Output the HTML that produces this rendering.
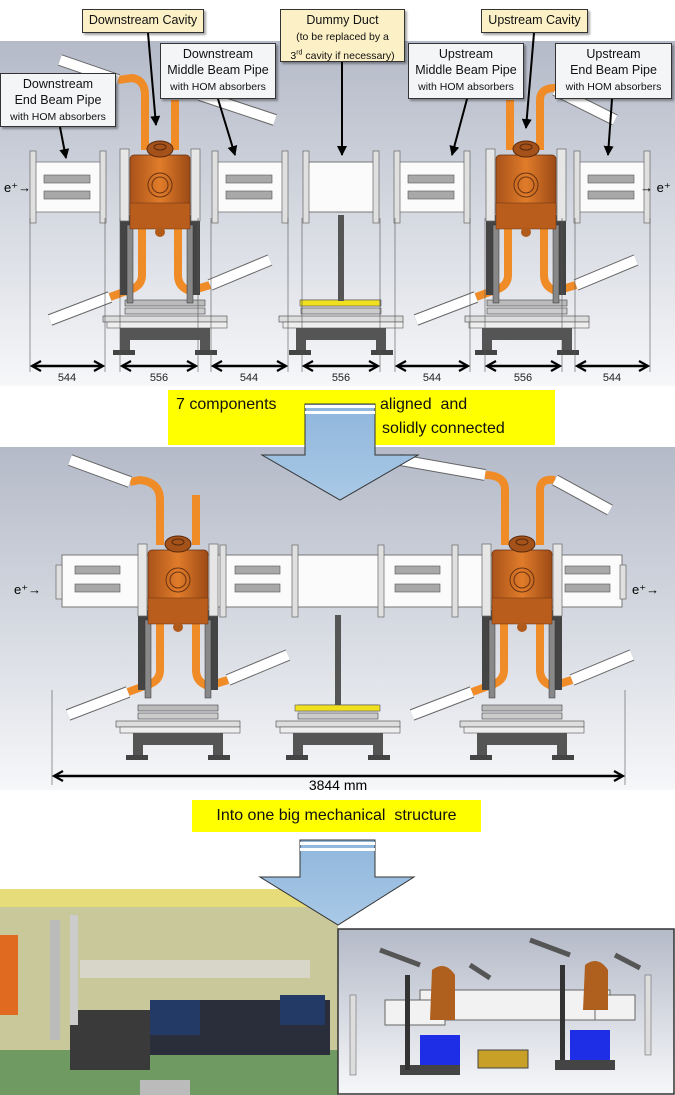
<!DOCTYPE html>
<html><head><meta charset="utf-8">
<style>
body{margin:0;width:675px;height:1095px;overflow:hidden;background:#fff;font-family:"Liberation Sans",sans-serif;}
svg{position:absolute;left:0;top:0}
.lb{position:absolute;border:1px solid #333;box-shadow:2px 2px 2px rgba(0,0,0,.35);text-align:center;font-size:12.5px;line-height:16px;color:#111;box-sizing:border-box;padding-top:2px}
.y{background:#fcf0c6}
.w{background:#f4f5f7}
.s{font-size:10.5px}
.yb{position:absolute;background:#ffff00;font-size:16px;color:#111}
</style></head><body>
<svg width="675" height="1095" viewBox="0 0 675 1095">
<defs>
<linearGradient id="bg" x1="0" y1="0" x2="0" y2="1"><stop offset="0" stop-color="#b4bac8"/><stop offset="1" stop-color="#f6f7f9"/></linearGradient>
<linearGradient id="cu" x1="0" y1="0" x2="1" y2="0"><stop offset="0" stop-color="#a9521a"/><stop offset=".5" stop-color="#e07c2a"/><stop offset="1" stop-color="#9c4a16"/></linearGradient>
<g id="pipe">
 <rect x="-33" y="-25" width="66" height="50" fill="#fbfbfb" stroke="#777" stroke-width=".8"/>
 <rect x="-24" y="-12" width="46" height="8" fill="#a8a8a8" stroke="#555" stroke-width=".6"/>
 <rect x="-24" y="4" width="46" height="8" fill="#a8a8a8" stroke="#555" stroke-width=".6"/>
 <rect x="-38" y="-36" width="6" height="72" fill="#e0e0e0" stroke="#666" stroke-width=".7"/>
 <rect x="32" y="-36" width="6" height="72" fill="#e0e0e0" stroke="#666" stroke-width=".7"/>
</g>
<g id="cav">
 <path d="M-18 30 V90 Q-18 100 -28 104 L-50 112" fill="none" stroke="#f08c28" stroke-width="8"/>
 <path d="M18 30 V90 Q18 102 30 106 L50 100" fill="none" stroke="#f08c28" stroke-width="8"/>
 <rect x="-40" y="30" width="12" height="80" fill="#444"/><rect x="28" y="30" width="12" height="80" fill="#444"/>
 <rect x="-33" y="40" width="6" height="78" fill="#888" stroke="#333" stroke-width=".5"/><rect x="27" y="40" width="6" height="78" fill="#888" stroke="#333" stroke-width=".5"/>
 <line x1="-50" y1="112" x2="-110" y2="135" stroke="#666" stroke-width="12"/><line x1="-50" y1="112" x2="-110" y2="135" stroke="#fff" stroke-width="10"/>
 <line x1="50" y1="100" x2="110" y2="75" stroke="#666" stroke-width="12"/><line x1="50" y1="100" x2="110" y2="75" stroke="#fff" stroke-width="10"/>
 <rect x="-40" y="-36" width="9" height="72" fill="#e6e6e6" stroke="#666" stroke-width=".7"/>
 <rect x="31" y="-36" width="9" height="72" fill="#e6e6e6" stroke="#666" stroke-width=".7"/>
 <rect x="-30" y="-30" width="60" height="62" rx="4" fill="url(#cu)" stroke="#6a3210" stroke-width=".7"/>
 <rect x="-30" y="18" width="60" height="26" fill="#b85d1c" stroke="#6a3210" stroke-width=".5"/>
 <circle cx="0" cy="0" r="12" fill="none" stroke="#6a3210"/><circle cx="0" cy="0" r="8" fill="none" stroke="#6a3210"/>
 <ellipse cx="0" cy="-36" rx="13" ry="8" fill="#a4511a" stroke="#5a2a0c"/><ellipse cx="0" cy="-38" rx="6" ry="3" fill="none" stroke="#5a2a0c"/>
 <circle cx="0" cy="47" r="5" fill="#b05a1c"/>
</g>
<g id="stand">
 <rect x="-40" y="0" width="80" height="6" fill="#bbb" stroke="#444" stroke-width=".6"/>
 <rect x="-40" y="8" width="80" height="6" fill="#ccc" stroke="#444" stroke-width=".6"/>
 <rect x="-62" y="16" width="124" height="6" fill="#ddd" stroke="#444" stroke-width=".6"/>
 <rect x="-58" y="22" width="120" height="6" fill="#eee" stroke="#555" stroke-width=".6"/>
 <rect x="-45" y="28" width="90" height="12" fill="#555"/>
 <rect x="-45" y="40" width="10" height="12" fill="#555"/><rect x="35" y="40" width="10" height="12" fill="#555"/>
 <rect x="-52" y="50" width="22" height="5" fill="#444"/><rect x="30" y="50" width="22" height="5" fill="#444"/>
</g>
<marker id="ah" markerUnits="userSpaceOnUse" markerWidth="12" markerHeight="12" refX="10" refY="6" orient="auto-start-reverse"><path d="M1 1 L10 6 L1 11" fill="none" stroke="#000" stroke-width="2.2"/></marker>
<marker id="ar" markerUnits="userSpaceOnUse" markerWidth="10" markerHeight="10" refX="9" refY="5" orient="auto"><path d="M0 0 L10 5 L0 10 Z" fill="#000"/></marker>
</defs>

<!-- top panel -->
<rect x="0" y="41" width="675" height="345" fill="url(#bg)"/>
<use href="#stand" x="165" y="300"/><use href="#stand" x="341" y="300"/><use href="#stand" x="527" y="300"/>
<rect x="300" y="300" width="80" height="6" fill="#f0e020" stroke="#555" stroke-width=".6"/>
<rect x="338" y="215" width="6" height="86" fill="#555"/>
<use href="#pipe" x="68" y="187"/>
<use href="#pipe" x="250" y="187"/>
<use href="#pipe" x="432" y="187"/>
<use href="#pipe" x="612" y="187"/>
<g transform="translate(341 187)"><rect x="-33" y="-25" width="66" height="50" fill="#fbfbfb" stroke="#777"/><rect x="-38" y="-36" width="6" height="72" fill="#e0e0e0" stroke="#666" stroke-width=".7"/><rect x="32" y="-36" width="6" height="72" fill="#e0e0e0" stroke="#666" stroke-width=".7"/></g>
<path d="M145 150 V95 Q145 80 132 78 L118 80" fill="none" stroke="#f08c28" stroke-width="8"/>
<path d="M175 150 V100" fill="none" stroke="#f08c28" stroke-width="8"/>
<line x1="118" y1="80" x2="60" y2="60" stroke="#666" stroke-width="12"/><line x1="118" y1="80" x2="60" y2="60" stroke="#fff" stroke-width="10"/>
<line x1="200" y1="95" x2="275" y2="120" stroke="#666" stroke-width="12"/><line x1="200" y1="95" x2="275" y2="120" stroke="#fff" stroke-width="10"/>
<path d="M510 150 V100" fill="none" stroke="#f08c28" stroke-width="8"/>
<path d="M540 150 V100 Q540 88 555 88" fill="none" stroke="#f08c28" stroke-width="8"/>
<line x1="555" y1="90" x2="615" y2="120" stroke="#666" stroke-width="12"/><line x1="555" y1="90" x2="615" y2="120" stroke="#fff" stroke-width="10"/>
<use href="#cav" x="160" y="185"/>
<use href="#cav" x="526" y="185"/>
<text x="4" y="192" font-size="13">e⁺→</text><text x="640" y="192" font-size="13">→ e⁺</text>
<g stroke="#555" stroke-width=".6">
<line x1="30" y1="218" x2="30" y2="372"/><line x1="105" y1="218" x2="105" y2="372"/><line x1="120" y1="218" x2="120" y2="372"/><line x1="198" y1="218" x2="198" y2="372"/>
<line x1="211" y1="218" x2="211" y2="372"/><line x1="288" y1="218" x2="288" y2="372"/><line x1="302" y1="218" x2="302" y2="372"/><line x1="380" y1="218" x2="380" y2="372"/>
<line x1="395" y1="218" x2="395" y2="372"/><line x1="470" y1="218" x2="470" y2="372"/><line x1="485" y1="218" x2="485" y2="372"/><line x1="562" y1="218" x2="562" y2="372"/>
<line x1="575" y1="218" x2="575" y2="372"/><line x1="650" y1="218" x2="650" y2="372"/>
</g>
<g stroke="#000" stroke-width="2.5" marker-start="url(#ah)" marker-end="url(#ah)">
<line x1="32" y1="366" x2="103" y2="366"/><line x1="122" y1="366" x2="196" y2="366"/><line x1="213" y1="366" x2="286" y2="366"/><line x1="304" y1="366" x2="378" y2="366"/>
<line x1="397" y1="366" x2="468" y2="366"/><line x1="487" y1="366" x2="560" y2="366"/><line x1="577" y1="366" x2="648" y2="366"/>
</g>
<g font-size="11" text-anchor="middle" fill="#222">
<text x="67" y="381">544</text><text x="159" y="381">556</text><text x="249" y="381">544</text><text x="341" y="381">556</text><text x="432" y="381">544</text><text x="523" y="381">556</text><text x="612" y="381">544</text>
</g>
<g stroke="#000" stroke-width="2" marker-end="url(#ar)">
<line x1="60" y1="127" x2="66" y2="158"/><line x1="148" y1="33" x2="156" y2="125"/><line x1="218" y1="99" x2="235" y2="155"/>
<line x1="342" y1="62" x2="342" y2="155"/><line x1="467" y1="99" x2="452" y2="155"/><line x1="534" y1="33" x2="526" y2="128"/><line x1="612" y1="99" x2="608" y2="155"/>
</g>

<!-- second panel -->
<rect x="0" y="447" width="675" height="343" fill="url(#bg)"/>
<use href="#stand" x="178" y="705"/><use href="#stand" x="338" y="705"/><use href="#stand" x="522" y="705"/>
<rect x="295" y="705" width="85" height="6" fill="#f0e020" stroke="#555" stroke-width=".6"/>
<rect x="335" y="615" width="6" height="90" fill="#555"/>
<rect x="62" y="555" width="560" height="52" fill="#fbfbfb" stroke="#777"/>
<g fill="#a8a8a8" stroke="#555" stroke-width=".6">
<rect x="75" y="566" width="45" height="8"/><rect x="75" y="584" width="45" height="8"/><rect x="235" y="566" width="45" height="8"/><rect x="235" y="584" width="45" height="8"/>
<rect x="395" y="566" width="45" height="8"/><rect x="395" y="584" width="45" height="8"/><rect x="565" y="566" width="45" height="8"/><rect x="565" y="584" width="45" height="8"/>
</g>
<g fill="#e0e0e0" stroke="#666" stroke-width=".7">
<rect x="56" y="565" width="6" height="34"/><rect x="620" y="565" width="6" height="34"/>
<rect x="220" y="545" width="6" height="72"/><rect x="292" y="545" width="6" height="72"/><rect x="378" y="545" width="6" height="72"/><rect x="452" y="545" width="6" height="72"/>
</g>
<path d="M160 545 V500 Q160 482 140 480 L130 482" fill="none" stroke="#f08c28" stroke-width="8"/>
<line x1="130" y1="482" x2="70" y2="460" stroke="#666" stroke-width="12"/><line x1="130" y1="482" x2="70" y2="460" stroke="#fff" stroke-width="10"/>
<path d="M196 545 V495" fill="none" stroke="#f08c28" stroke-width="8"/>
<path d="M505 545 V490 Q505 475 485 475" fill="none" stroke="#f08c28" stroke-width="8"/>
<line x1="485" y1="475" x2="400" y2="460" stroke="#666" stroke-width="12"/><line x1="485" y1="475" x2="400" y2="460" stroke="#fff" stroke-width="10"/>
<path d="M540 545 V490 Q540 478 555 480" fill="none" stroke="#f08c28" stroke-width="8"/>
<line x1="555" y1="480" x2="610" y2="510" stroke="#666" stroke-width="12"/><line x1="555" y1="480" x2="610" y2="510" stroke="#fff" stroke-width="10"/>
<use href="#cav" x="178" y="580"/><use href="#cav" x="522" y="580"/>
<text x="14" y="594" font-size="13">e⁺→</text><text x="632" y="594" font-size="13">e⁺→</text>
<line x1="52" y1="690" x2="52" y2="785" stroke="#555" stroke-width=".6"/><line x1="625" y1="690" x2="625" y2="785" stroke="#555" stroke-width=".6"/>
<line x1="54" y1="776" x2="623" y2="776" stroke="#000" stroke-width="2.5" marker-start="url(#ah)" marker-end="url(#ah)"/>
<text x="338" y="790" font-size="14" text-anchor="middle">3844 mm</text>

<!-- photo -->
<rect x="0" y="889" width="338" height="206" fill="#c9c89a"/>
<rect x="0" y="889" width="338" height="18" fill="#e6dc7a"/>
<rect x="0" y="1050" width="338" height="45" fill="#6f9a62"/>
<rect x="150" y="1000" width="180" height="55" fill="#2a2e3a"/>
<rect x="150" y="1000" width="50" height="35" fill="#233a66"/><rect x="280" y="995" width="45" height="30" fill="#233a66"/>
<rect x="70" y="1010" width="80" height="60" fill="#3a3a3a"/>
<rect x="80" y="960" width="230" height="18" fill="#d8d6c8"/>
<rect x="0" y="935" width="18" height="80" fill="#e06a20"/>
<rect x="50" y="920" width="10" height="120" fill="#bbb"/><rect x="70" y="915" width="8" height="110" fill="#ccc"/>
<rect x="140" y="1080" width="50" height="15" fill="#bbb"/>
<!-- render box -->
<rect x="338" y="929" width="336" height="165" fill="url(#bg)" stroke="#333" stroke-width="1.5"/>
<rect x="420" y="990" width="190" height="30" fill="#f2f2f2" stroke="#666"/>
<rect x="385" y="1000" width="60" height="25" fill="#f2f2f2" stroke="#666"/><rect x="595" y="995" width="40" height="25" fill="#f2f2f2" stroke="#666"/>
<path d="M432 970 Q445 960 455 975 V1020 H430 Z" fill="#b0601e"/><path d="M585 965 Q598 955 608 970 V1010 H583 Z" fill="#b0601e"/>
<rect x="420" y="1035" width="40" height="32" fill="#1e2ee6"/><rect x="570" y="1030" width="40" height="30" fill="#1e2ee6"/>
<rect x="478" y="1050" width="50" height="18" fill="#c8a028" stroke="#444"/>
<rect x="400" y="1065" width="60" height="10" fill="#444"/><rect x="555" y="1060" width="60" height="10" fill="#444"/>
<rect x="350" y="995" width="6" height="80" fill="#ddd" stroke="#555" stroke-width=".5"/><rect x="645" y="975" width="6" height="80" fill="#ddd" stroke="#555" stroke-width=".5"/>
<rect x="405" y="975" width="5" height="95" fill="#333"/><rect x="560" y="965" width="5" height="95" fill="#333"/>
<line x1="380" y1="950" x2="420" y2="965" stroke="#555" stroke-width="5"/><line x1="530" y1="940" x2="570" y2="955" stroke="#555" stroke-width="5"/>
<line x1="470" y1="965" x2="490" y2="978" stroke="#555" stroke-width="5"/><line x1="615" y1="955" x2="640" y2="968" stroke="#555" stroke-width="5"/>
</svg>

<div class="lb y" style="left:82px;top:9px;width:122px;height:24px">Downstream Cavity</div>
<div class="lb y" style="left:280px;top:9px;width:125px;height:53px">Dummy Duct<br><span class="s">(to be replaced by a<br>3<sup style="font-size:7px">rd</sup> cavity if necessary)</span></div>
<div class="lb y" style="left:481px;top:9px;width:107px;height:24px">Upstream Cavity</div>
<div class="lb w" style="left:160px;top:43px;width:116px;height:56px">Downstream<br>Middle Beam Pipe<br><span class="s">with HOM absorbers</span></div>
<div class="lb w" style="left:0px;top:73px;width:116px;height:54px">Downstream<br>End Beam Pipe<br><span class="s">with HOM absorbers</span></div>
<div class="lb w" style="left:408px;top:43px;width:116px;height:56px">Upstream<br>Middle Beam Pipe<br><span class="s">with HOM absorbers</span></div>
<div class="lb w" style="left:555px;top:43px;width:117px;height:56px">Upstream<br>End Beam Pipe<br><span class="s">with HOM absorbers</span></div>

<div class="yb" style="left:168px;top:390px;width:387px;height:55px"><span style="position:absolute;left:8px;top:6px">7 components</span><span style="position:absolute;left:212px;top:6px">aligned&nbsp; and</span><span style="position:absolute;left:214px;top:30px">solidly connected</span></div>
<div class="yb" style="left:192px;top:800px;width:289px;height:32px;line-height:32px;text-align:center">Into one big mechanical&nbsp; structure</div>

<svg width="675" height="1095" viewBox="0 0 675 1095" style="pointer-events:none">
<defs><linearGradient id="bl2" x1="0" y1="0" x2="0" y2="1"><stop offset="0" stop-color="#8fb6dc"/><stop offset="1" stop-color="#a9c9e6"/></linearGradient></defs>
<path d="M305 404 H375 V455 H418 L340 500 L262 455 H305 Z" fill="url(#bl2)" stroke="#333" stroke-width="1"/>
<rect x="305" y="405" width="70" height="3" fill="#fff"/><rect x="305" y="411" width="70" height="3" fill="#fff"/>
<path d="M300 840 H375 V877 H414 L338 925 L260 877 H300 Z" fill="url(#bl2)" stroke="#333" stroke-width="1"/>
<rect x="300" y="842" width="75" height="3" fill="#fff"/><rect x="300" y="848" width="75" height="3" fill="#fff"/>
</svg>
</body></html>
